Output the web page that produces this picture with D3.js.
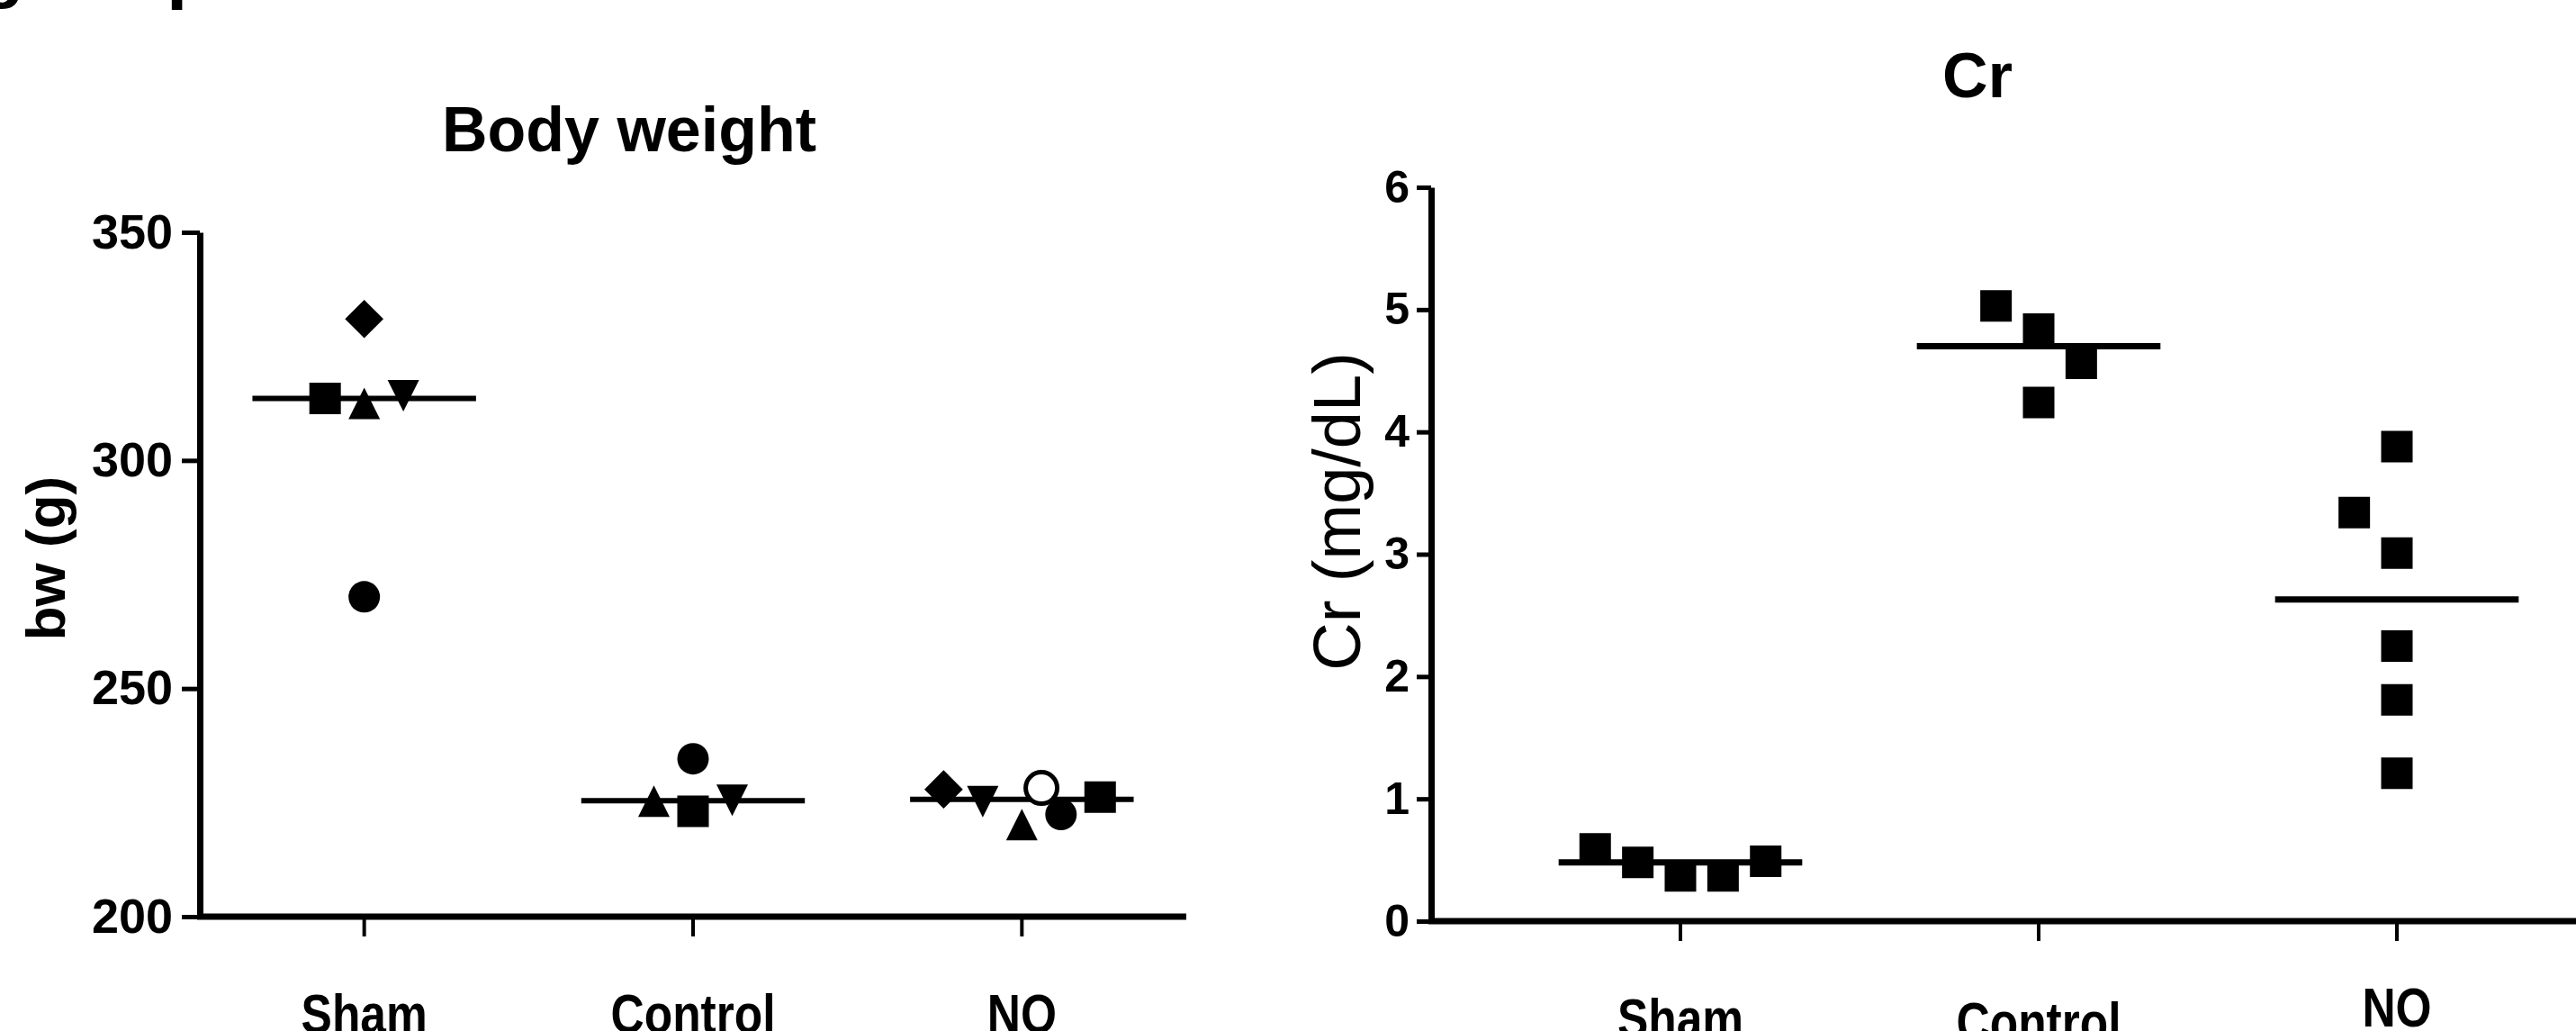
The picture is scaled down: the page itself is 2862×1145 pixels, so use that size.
<!DOCTYPE html>
<html>
<head>
<meta charset="utf-8">
<script src="https://cdn.jsdelivr.net/npm/d3@7"></script>
<style>
  body { margin: 0; background: #fff; overflow: hidden; }
  svg { display: block; }
  text { fill: #000; }
</style>
</head>
<body>
<svg id="fig" width="2862" height="1145"></svg>
<script>
var groups = ["Sham", "Control", "NO"];

// body weight (g), one value per animal
var bwSham    = [313.6, 312.5, 314.2, 331.0, 270.1];
var bwControl = [225.3, 234.6, 223.1, 225.5];
var bwNO      = [227.9, 225.2, 228.2, 220.2, 222.4, 226.2];
var bwTicks = [200, 250, 300, 350];

// serum creatinine (mg/dL)
var crSham    = [0.59, 0.48, 0.37, 0.37, 0.49];
var crControl = [5.03, 4.84, 4.56, 4.24];
var crNO      = [3.88, 3.34, 3.01, 2.25, 1.81, 1.21];
var crTicks = [0, 1, 2, 3, 4, 5, 6];

// symbol of each animal (prism style)
var bwShapes = {
  Sham:    ["square", "triUp", "triDown", "diamond", "circle"],
  Control: ["triUp", "circle", "square", "triDown"],
  NO:      ["diamond", "triDown", "openCircle", "triUp", "circle", "square"]
};
// column slot of each point inside its group (scatter spreading)
var bwSlots = { Sham: [-1, 0, 1, 0, 0], Control: [-1, 0, 0, 1], NO: [-2, -1, 0.5, 0, 1, 2] };
var crSlots = { Sham: [-2, -1, 0, 1, 2], Control: [-1, 0, 1, 0], NO: [0, -1, 0, 0, 0, 0] };

var svg = d3.select("#fig");
var fontMain = "'Liberation Sans', Arial, sans-serif";

function shapePath(type, r) {
  var p = d3.path();
  if (type === "square") { p.rect(-r, -r, 2 * r, 2 * r); }
  else if (type === "triUp") { p.moveTo(0, -r); p.lineTo(r, r); p.lineTo(-r, r); p.closePath(); }
  else if (type === "triDown") { p.moveTo(-r, -r); p.lineTo(r, -r); p.lineTo(0, r); p.closePath(); }
  else if (type === "diamond") { var d = r * 1.22; p.moveTo(0, -d); p.lineTo(d, 0); p.lineTo(0, d); p.lineTo(-d, 0); p.closePath(); }
  else { p.arc(0, 0, r, 0, 2 * Math.PI); }
  return p.toString();
}

function drawPanel(cfg) {
  var g = svg.append("g");
  var x = d3.scaleBand().domain(groups).range(cfg.xRange).padding(0);
  var y = d3.scaleLinear().domain(cfg.yDomain).range(cfg.yRange);
  var step = x.bandwidth();
  var cx = function(k) { return x(k) + step / 2; };

  // title
  g.append("text")
    .attr("x", cfg.titleX).attr("y", cfg.titleY)
    .attr("text-anchor", "middle")
    .style("font-family", fontMain).style("font-weight", "bold")
    .style("font-size", "70px")
    .text(cfg.title);

  // y axis
  var yAxis = g.append("g")
    .attr("transform", "translate(" + cfg.axisX + ",0)")
    .call(d3.axisLeft(y).tickValues(cfg.ticks).tickFormat(d3.format("d"))
      .tickSize(cfg.tickLen).tickSizeOuter(0).tickPadding(cfg.tickPad));
  yAxis.select(".domain").attr("stroke", "#000").attr("stroke-width", 7);
  yAxis.selectAll(".tick line").attr("stroke", "#000").attr("stroke-width", 5);
  yAxis.selectAll(".tick text")
    .style("font-family", fontMain).style("font-weight", "bold")
    .style("font-size", cfg.tickFont + "px");

  // x axis
  var xAxis = g.append("g")
    .attr("transform", "translate(0," + cfg.yRange[0] + ")")
    .call(d3.axisBottom(x).tickSize(22).tickSizeOuter(0).tickPadding(cfg.catPad));
  xAxis.select(".domain").remove();
  xAxis.append("line")
    .attr("x1", cfg.axisX - 3).attr("x2", cfg.xRange[1])
    .attr("stroke", "#000").attr("stroke-width", 7);
  xAxis.selectAll(".tick line").attr("stroke", "#000").attr("stroke-width", 4);
  xAxis.selectAll(".tick text")
    .attr("dy", function(d) { return (cfg.catShift[d] || 0) + "px"; })
    .attr("dominant-baseline", "hanging")
    .style("font-family", fontMain).style("font-weight", "bold")
    .style("font-size", "62px")
    .each(function() {
      // the original labels use a condensed face
      var len = this.getComputedTextLength();
      d3.select(this).attr("textLength", len * 0.83).attr("lengthAdjust", "spacingAndGlyphs");
    });

  // y label
  g.append("text")
    .attr("transform", "translate(" + cfg.yLabelX + "," + cfg.yLabelY + ") rotate(-90)")
    .attr("text-anchor", "middle")
    .style("font-family", fontMain).style("font-weight", cfg.yLabelWeight)
    .style("font-size", cfg.yLabelFont + "px")
    .text(cfg.yLabel);

  // median lines
  groups.forEach(function(k) {
    var m = d3.median(cfg.data[k]);
    g.append("line")
      .attr("x1", cx(k) - step * 0.34).attr("x2", cx(k) + step * 0.34)
      .attr("y1", y(m)).attr("y2", y(m))
      .attr("stroke", "#000").attr("stroke-width", cfg.lineW);
  });

  // points
  groups.forEach(function(k) {
    var pts = cfg.data[k].map(function(v, i) {
      return { v: v, shape: cfg.shapes ? cfg.shapes[k][i] : "square", slot: cfg.slots[k][i] };
    });
    g.selectAll(null).data(pts).enter().append("path")
      .attr("transform", function(d) { return "translate(" + (cx(k) + d.slot * step * 0.119) + "," + y(d.v) + ")"; })
      .attr("d", function(d) { return shapePath(d.shape, cfg.r); })
      .attr("fill", function(d) { return d.shape === "openCircle" ? "#fff" : "#000"; })
      .attr("stroke", "#000")
      .attr("stroke-width", function(d) { return d.shape === "openCircle" ? 5 : 0; });
  });
}

// cut-off heading at the very top
svg.append("text").attr("x", -22).attr("y", -7)
  .style("font-family", fontMain).style("font-weight", "bold").style("font-size", "80px").text("g");
svg.append("text").attr("x", 185).attr("y", -6)
  .style("font-family", fontMain).style("font-weight", "bold").style("font-size", "84px").text("p");

drawPanel({
  title: "Body weight", titleX: 699, titleY: 168,
  axisX: 222, xRange: [222, 1318], yDomain: [200, 350], yRange: [1018, 258],
  ticks: bwTicks, tickLen: 20, tickPad: 10, tickFont: 54,
  yLabel: "bw (g)", yLabelX: 72, yLabelY: 620, yLabelFont: 62, yLabelWeight: "bold",
  data: { Sham: bwSham, Control: bwControl, NO: bwNO },
  shapes: bwShapes, slots: bwSlots, r: 17.5, lineW: 6,
  catPad: 62, catShift: {}
});

drawPanel({
  title: "Cr", titleX: 2197, titleY: 108,
  axisX: 1590, xRange: [1668, 2862], yDomain: [0, 6], yRange: [1023, 208],
  ticks: crTicks, tickLen: 16, tickPad: 8, tickFont: 50,
  yLabel: "Cr (mg/dL)", yLabelX: 1511, yLabelY: 568, yLabelFont: 74, yLabelWeight: "normal",
  data: { Sham: crSham, Control: crControl, NO: crNO },
  shapes: null, slots: crSlots, r: 17.5, lineW: 7,
  catPad: 58, catShift: { Sham: 4, Control: 8, NO: -8 }
});
</script>
</body>
</html>
